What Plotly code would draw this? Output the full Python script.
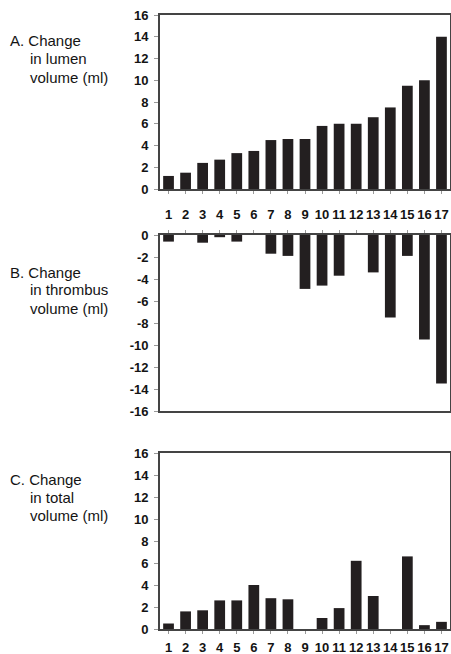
import plotly.graph_objects as go

patients = [str(i) for i in range(1, 18)]
lumen = [1.2, 1.5, 2.4, 2.7, 3.3, 3.5, 4.5, 4.6, 4.6, 5.8, 6.0, 6.0, 6.6, 7.5, 9.5, 10.0, 14.0]
thrombus = [-0.6, 0, -0.7, -0.2, -0.6, 0, -1.7, -1.9, -4.9, -4.6, -3.7, 0, -3.4, -7.5, -1.9, -9.5, -13.5]
total = [0.5, 1.6, 1.7, 2.6, 2.6, 4.0, 2.8, 2.7, 0, 1.0, 1.9, 6.2, 3.0, 0, 6.6, 0.35, 0.65]

pos_ticks = [0, 2, 4, 6, 8, 10, 12, 14, 16]
neg_ticks = [0, -2, -4, -6, -8, -10, -12, -14, -16]
neg_text = ["0", "-2", "-4", "-6", "-8", "-10", "-12", "-14", "-16"]

titles = [
    ["A. Change", "in lumen", "volume (ml)"],
    ["B. Change", "in thrombus", "volume (ml)"],
    ["C. Change", "in total", "volume (ml)"],
]

W, H = 451, 654
BAR = "#231f20"
LINE = "#444444"
TXT = "#141414"
FONT = "Liberation Sans, Arial, sans-serif"

fig = go.Figure()
series = [lumen, thrombus, total]
for i, s in enumerate(series):
    fig.add_trace(go.Bar(
        x=patients, y=s, xaxis=f"x{i+1 if i else ''}", yaxis=f"y{i+1 if i else ''}",
        marker=dict(color=BAR, line=dict(width=0)),
        showlegend=False, hoverinfo="x+y",
    ))

# pixel boxes (top, bottom) of each plot area
boxes = [(15, 189), (235, 411), (453, 629)]
xdom = [160 / W, 450 / W]

layout = dict(
    template="none",
    width=W, height=H, margin=dict(l=0, r=0, t=0, b=0, autoexpand=False),
    paper_bgcolor="white", plot_bgcolor="white", bargap=0.37,
    font=dict(family=FONT, color=TXT),
)
for i, (top, bot) in enumerate(boxes):
    suf = str(i + 1) if i else ""
    ydom = [1 - bot / H, 1 - top / H]
    xa = dict(
        domain=xdom, anchor=f"y{suf}", type="category", automargin=False,
        showline=True, mirror=True, linecolor=LINE, linewidth=1.8,
        ticks="outside", ticklen=3, tickcolor="#999", tickwidth=1,
        showgrid=False, zeroline=False, fixedrange=True,
        tickfont=dict(family=FONT, size=13, color=TXT, weight="bold"),
    )
    ya = dict(
        domain=ydom, anchor=f"x{suf}", automargin=False,
        showline=True, mirror=True, linecolor=LINE, linewidth=1.8,
        ticks="outside", ticklen=4, tickcolor="#999", tickwidth=1,
        showgrid=False, zeroline=False, fixedrange=True,
        tickfont=dict(family=FONT, size=13, color=TXT, weight="bold"),
        ticklabelstandoff=3,
    )
    if i == 1:
        xa.update(side="top", showticklabels=False)
        ya.update(range=[-16, 0], tickvals=neg_ticks, ticktext=neg_text)
    else:
        ya.update(range=[0, 16], tickvals=pos_ticks)
        xa.update(ticklabelstandoff=9 if i == 0 else 2)
    layout[f"xaxis{suf}"] = xa
    layout[f"yaxis{suf}"] = ya

annotations = []
label_y = [41, 272, 479]
for i, lines in enumerate(titles):
    for j, t in enumerate(lines):
        annotations.append(dict(
            text=t, xref="paper", yref="paper",
            x=(8 if j == 0 else 28) / W, y=1 - (label_y[i] + 18 * j) / H,
            xanchor="left", yanchor="middle", showarrow=False,
            font=dict(family=FONT, size=15, color=TXT),
        ))
layout["annotations"] = annotations

fig.update_layout(**layout)
fig.write_html(
    "out.html",
    config={"displayModeBar": False},
    post_script="document.body.style.margin='0';document.body.style.overflow='hidden';",
)
